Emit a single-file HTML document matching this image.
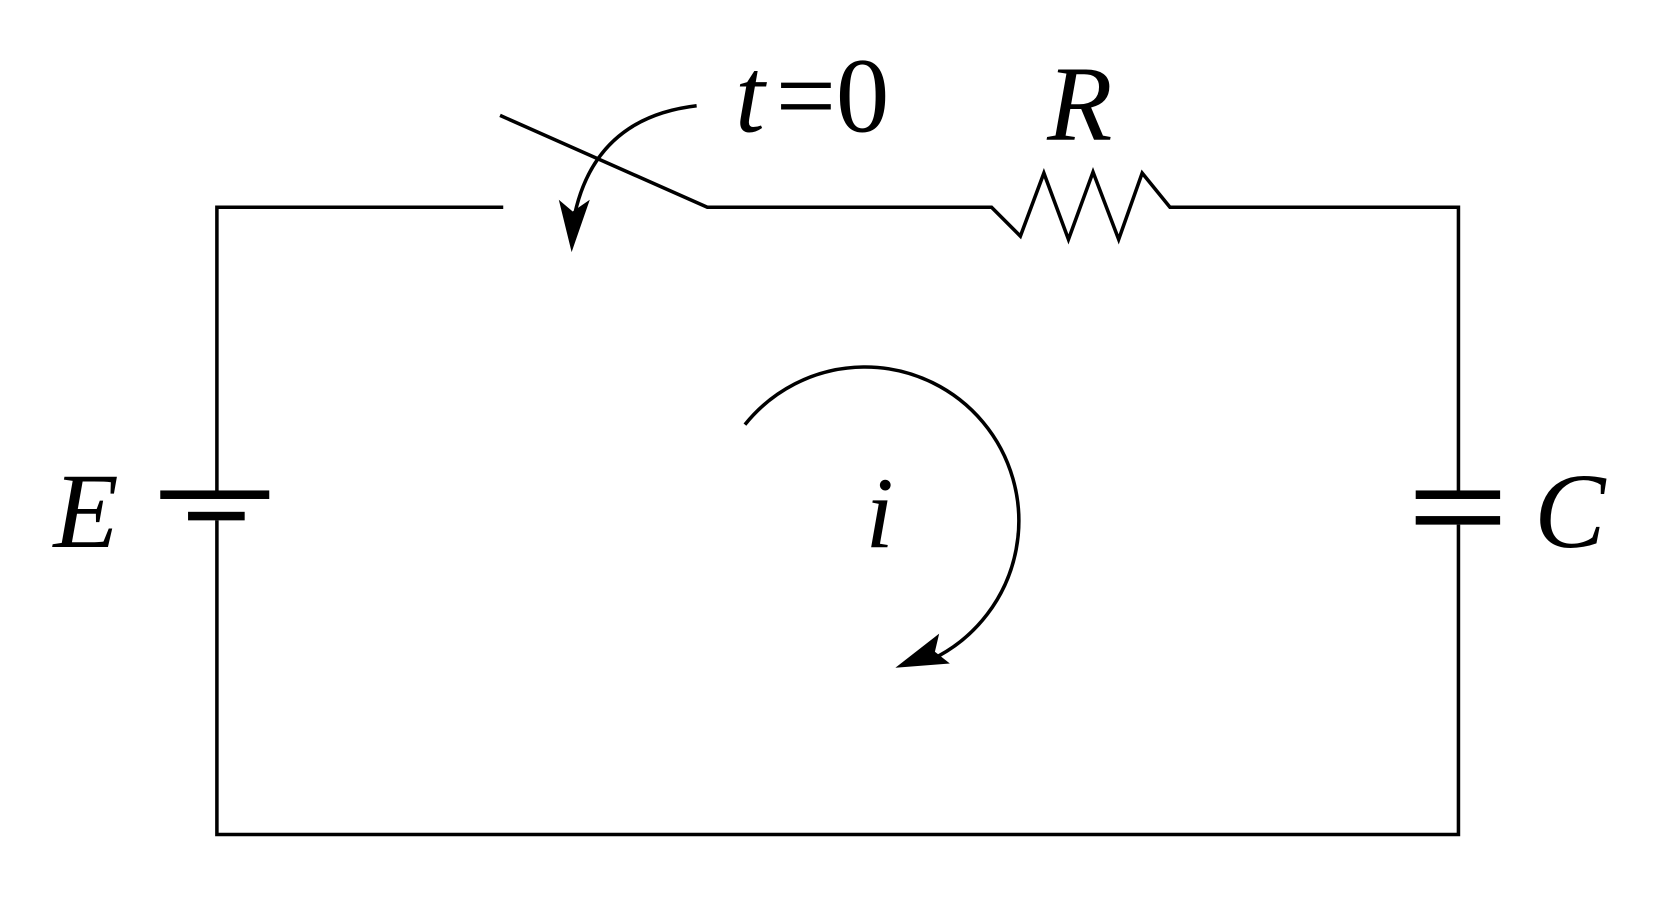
<!DOCTYPE html>
<html><head><meta charset="utf-8"><style>
html,body{margin:0;padding:0;background:#fff;width:1670px;height:897px;overflow:hidden}
svg{display:block}
text{font-family:"Liberation Serif",serif;font-style:italic;fill:#000}
</style></head><body>
<svg width="1670" height="897" viewBox="0 0 1563 839.5" preserveAspectRatio="none" xmlns="http://www.w3.org/2000/svg">
<g fill="none" stroke="#000" stroke-width="3.3">
<polyline points="471,194 203,194 203,459"/>
<polyline points="203,487 203,781 1365,781 1365,491"/>
<polyline points="1365,459 1365,194 1095,194 1069,162 1047,224 1023,161 1000,224 977,162 955,221 928,194 662,194 468,108"/>
<path d="M652,99 Q558,110 538,200"/>
<path d="M697.2,397.4 A144,144 0 1 1 878.5,613.9"/>
</g>
<g fill="#000">
<rect x="150" y="459" width="102" height="8"/>
<rect x="176" y="479" width="53" height="8"/>
<rect x="1325" y="459" width="79" height="8"/>
<rect x="1325" y="483" width="79" height="8"/>
<polygon points="535,236 523,187 536,198 552,187"/>
<polygon points="838,625 879,593 875,610 889,621"/>
</g>
<text x="50" y="512" font-size="100">E</text>
<text x="1436" y="512" font-size="100">C</text>
<text x="980" y="131" font-size="100">R</text>
<text x="810" y="512" font-size="95">i</text>
<text x="688" y="123" font-size="100">t</text>
<text x="726" y="123" font-size="100" style="font-style:normal">=0</text>
</svg>
</body></html>
